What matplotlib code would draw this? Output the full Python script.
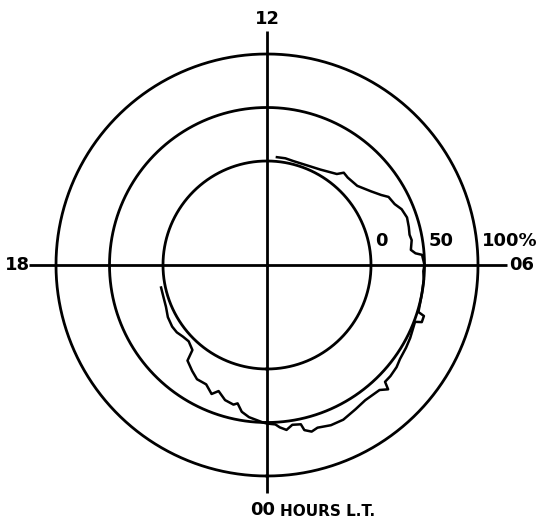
"""Polar diagram of percentage occurrence against local time."""

import numpy as np
import matplotlib.pyplot as plt

# trace: local time (h) and percentage, evening -> next noon
hours = [18.8, 19.05, 19.5, 19.85, 20.2, 20.45, 20.7, 20.95, 21.25, 21.35,
         21.65, 21.9, 22.2, 22.45, 22.6, 22.85, 23.1, 23.2, 23.35, 23.55,
         23.9, 0.0, 0.2, 0.3, 0.45, 0.6, 0.8, 0.85, 1.0, 1.15,
         1.45, 1.75, 2.1, 2.4, 2.8, 2.95, 3.02, 3.2, 3.45, 3.65,
         3.95, 4.2, 4.6, 4.65, 4.8, 4.85, 5.3, 5.65, 5.85, 6.0,
         6.25, 6.3, 6.4, 6.65, 6.8, 7.0, 7.25, 7.5, 7.7, 7.95,
         8.1, 8.35, 8.75, 9.15, 9.35, 9.5, 10.05, 11.05, 11.35, 11.65]
percent = [4, 4, 5, 7.5, 8.5, 8, 6, 5, 8.5, 19,
           24, 28, 28, 34, 29, 35, 37, 35, 42, 46,
           50, 51, 52, 55, 58, 54, 55, 61, 64, 62,
           64, 64, 61, 59, 60, 65, 58, 58, 57, 55,
           54, 53, 51, 57, 57, 51, 50, 50, 49, 50,
           48, 42, 38, 40, 39, 40, 41, 39, 35, 33,
           28, 22, 15, 14, 15, 10, 5, 3, 4, 4]

ring_levels = [0, 50, 100]
ring_labels = ['0', '50', '100%']
axis_hours = [0, 6, 12, 18]

# layout (pixels)
W, H = 540, 528
CX, CY = 267, 265          # centre of the diagram, from the top left
HALF = 240                 # half size of the polar axes
R_HOLE = 97.2              # radial offset: the 0 % ring is not at the centre
R_MAX = 127.1
PX = HALF / (R_MAX + R_HOLE)   # pixels per percent

LW = 2.0
FONT = 'DejaVu Sans'


def hour_to_theta(h):
    return np.radians(np.asarray(h, dtype=float) * 15.0)


def px_to_r(px):
    return px / PX - R_HOLE


fig = plt.figure(figsize=(W / 100, H / 100), dpi=100)
ax = fig.add_axes([(CX - HALF) / W, 1 - (CY + HALF) / H, 2 * HALF / W, 2 * HALF / H],
                  projection='polar')
ax.set_theta_zero_location('S')
ax.set_theta_direction(1)
ax.set_xlim(0, 2 * np.pi)
ax.set_ylim(0, R_MAX)
ax.set_rorigin(-R_HOLE)
ax.axis('off')

# rings
th = np.linspace(0, 2 * np.pi, 721)
for lvl in ring_levels:
    ax.plot(th, np.full_like(th, lvl), color='black', lw=LW, clip_on=False)

# cross lines, lengths in pixels from the centre
axis_len = {0: 228, 6: 240, 12: 234, 18: 238}
for h in axis_hours:
    t = hour_to_theta(h)
    ax.plot([t, t], [-R_HOLE, px_to_r(axis_len[h])], color='black', lw=LW,
            solid_capstyle='butt', clip_on=False)

# the trace
theta = np.unwrap(hour_to_theta(hours))
ax.plot(theta, percent, color='black', lw=1.8, solid_joinstyle='round', clip_on=False)

# hour labels
ax.text(hour_to_theta(12), px_to_r(246), '12', ha='center', va='center',
        fontsize=13, fontweight='bold', family=FONT)
ax.text(hour_to_theta(18), px_to_r(250), '18', ha='center', va='center',
        fontsize=13, fontweight='bold', family=FONT)
ax.text(hour_to_theta(6), px_to_r(255), '06', ha='center', va='center',
        fontsize=13, fontweight='bold', family=FONT)
ax.annotate('00', xy=(hour_to_theta(0), px_to_r(245)), xytext=(-4, 0),
            textcoords='offset pixels', ha='center', va='center',
            fontsize=13, fontweight='bold', family=FONT, annotation_clip=False)
ax.annotate('HOURS L.T.', xy=(hour_to_theta(0), px_to_r(245)), xytext=(13, -1),
            textcoords='offset pixels', ha='left', va='center',
            fontsize=11, fontweight='bold', family=FONT, annotation_clip=False)

# ring labels, just outside each ring above the 06 line
for lvl, lab in zip(ring_levels, ring_labels):
    ax.annotate(lab, xy=(hour_to_theta(6), lvl), xytext=(4, 24),
                textcoords='offset pixels', ha='left', va='center',
                fontsize=13, fontweight='bold', family=FONT, annotation_clip=False)

fig.savefig('out.png', dpi=100, facecolor='white')
